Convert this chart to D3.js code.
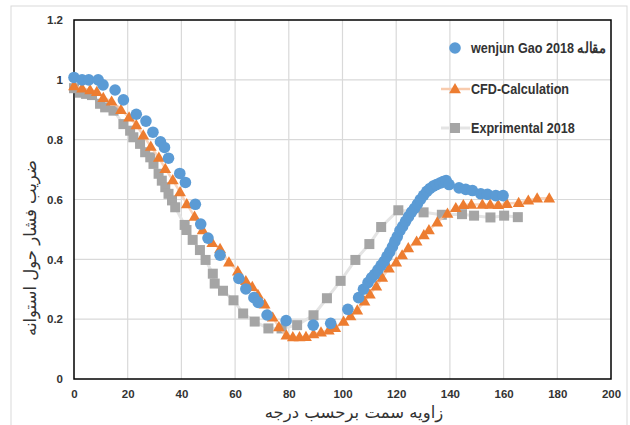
<!DOCTYPE html>
<html><head><meta charset="utf-8">
<script src="https://cdn.jsdelivr.net/npm/d3@7"></script>
<style>body{margin:0;background:#fff}svg{display:block}</style>
</head><body><svg id="c" width="630" height="425"></svg>
<script>
const xTicks=[0,20,40,60,80,100,120,140,160,180,200];
const yTicks=[0,0.2,0.4,0.6,0.8,1,1.2];
const seriesNames=["wenjun Gao 2018 مقاله","CFD-Calculation","Exprimental 2018"];
const xTitle="زاویه سمت برحسب درجه";
const yTitle="ضریب فشار حول استوانه";

const gaoX=[0,3,5.5,9,10.8,15.3,18.4,23.2,26.8,29.4,32.2,33.7,35.2,39.4,41.5,45.2,47.2,49.9,54.4,61.4,64,67,68.6,71.9,79,89.1,95.6,102,106,107.8,109.5,110.8,112,113.2,114.4,115.5,116.6,117.6,118.6,119.5,120.4,121.4,122.4,123.5,124.6,125.7,126.8,127.9,129,130.2,131.4,132.6,133.8,135,136.3,137.5,138.6,139.7,143.4,145.9,148.4,151.5,154,157.1,159.8];
const gaoY=[1.008,1.0,1.0,1.0,0.983,0.966,0.933,0.885,0.862,0.825,0.793,0.774,0.738,0.687,0.657,0.584,0.518,0.471,0.414,0.336,0.301,0.272,0.256,0.214,0.195,0.18,0.186,0.233,0.272,0.3,0.322,0.338,0.35,0.365,0.38,0.393,0.41,0.425,0.442,0.46,0.476,0.496,0.51,0.527,0.543,0.558,0.57,0.585,0.6,0.614,0.627,0.637,0.645,0.65,0.655,0.66,0.663,0.65,0.639,0.634,0.63,0.619,0.617,0.613,0.613];

const cfdX=[0,3,6,8.5,10.9,14,17.5,20.5,23.2,25.8,28.6,31.6,34,36.8,39.5,42,44.9,47.9,51.5,54.4,57.7,61,64,66.4,68.5,71,74,76.3,79.1,81.5,84,86.4,89.2,92,94.9,97.3,100.4,103,105.5,108.2,110.2,112.6,114.8,117.3,120,122.2,124.5,127.6,130.3,132.2,135.3,139.1,142.2,145,148,152.1,155,158,161.2,165.6,169.2,172.5,177];
const cfdY=[0.979,0.972,0.966,0.96,0.94,0.928,0.9,0.875,0.849,0.815,0.777,0.74,0.703,0.665,0.625,0.585,0.543,0.498,0.455,0.435,0.39,0.36,0.328,0.308,0.282,0.25,0.206,0.174,0.146,0.14,0.14,0.141,0.15,0.156,0.163,0.171,0.192,0.21,0.23,0.26,0.283,0.31,0.339,0.37,0.39,0.414,0.438,0.46,0.481,0.498,0.524,0.553,0.572,0.582,0.583,0.583,0.583,0.582,0.586,0.589,0.597,0.604,0.604];

const expX=[0,2.2,4.5,6.7,9.7,11.6,14.7,18.4,20.9,22.1,24.6,26.5,28.4,29.6,31.5,32.7,34,35.2,36.5,37.7,41.2,41.9,44.2,46.9,49,51.7,52.4,55.5,59.4,63,67.3,72.4,77.3,83.1,89.2,94.2,99.3,104.8,110,114.4,120.8,130.2,137,144.5,149,155.1,160.2,165.3];
const expY=[0.972,0.957,0.953,0.949,0.92,0.908,0.897,0.852,0.83,0.808,0.786,0.758,0.741,0.719,0.686,0.663,0.641,0.619,0.597,0.574,0.515,0.498,0.465,0.431,0.398,0.352,0.319,0.295,0.263,0.219,0.192,0.169,0.169,0.18,0.213,0.27,0.328,0.398,0.451,0.508,0.564,0.557,0.549,0.551,0.546,0.54,0.546,0.541];

const colBlue="#5b9bd5", colOrange="#ed7d31", colGray="#a5a5a5";
const lineOrange="#f8cbad", lineGray="#e4e4e4";

const svg=d3.select("#c");
const L=74,R=611,T=20,B=379;
const x=d3.scaleLinear().domain([0,200]).range([L,R]);
const y=d3.scaleLinear().domain([0,1.2]).range([B,T]);

svg.append("rect").attr("x",11).attr("y",6).attr("width",616).attr("height",440)
  .attr("fill","none").attr("stroke","#d9d9d9").attr("stroke-width",1);

const g=svg.append("g");
g.selectAll(".gx").data(xTicks.slice(1,-1)).join("line")
  .attr("x1",d=>x(d)).attr("x2",d=>x(d)).attr("y1",T).attr("y2",B)
  .attr("stroke","#d9d9d9").attr("stroke-width",1.2);
g.selectAll(".gy").data(yTicks.slice(1,-1)).join("line")
  .attr("y1",d=>y(d)).attr("y2",d=>y(d)).attr("x1",L).attr("x2",R)
  .attr("stroke","#d9d9d9").attr("stroke-width",1.2);

const xa=svg.append("g").attr("transform",`translate(0,${B})`)
  .call(d3.axisBottom(x).tickValues(xTicks).tickSize(0).tickPadding(11));
const ya=svg.append("g").attr("transform",`translate(${L},0)`)
  .call(d3.axisLeft(y).tickValues(yTicks).tickSize(0).tickPadding(11).tickFormat(d=>d3.format("")(+d.toFixed(1))));
[xa,ya].forEach(a=>{a.select(".domain").remove();
  a.selectAll("text").attr("font-family","'Liberation Sans',Arial,sans-serif").attr("font-weight","bold").attr("font-size","11.5px").attr("fill","#333");});

svg.append("rect").attr("x",L).attr("y",T).attr("width",R-L).attr("height",B-T)
  .attr("fill","none").attr("stroke","#000").attr("stroke-width",1.5);

const pts=(xs,ys)=>xs.map((v,i)=>[v,ys[i]]);
const line=d3.line().x(d=>x(d[0])).y(d=>y(d[1]));

svg.append("path").datum(pts(expX,expY)).attr("d",line).attr("fill","none").attr("stroke",lineGray).attr("stroke-width",3);
const sq=10;
svg.append("g").selectAll("rect").data(pts(expX,expY)).join("rect")
  .attr("x",d=>x(d[0])-sq/2).attr("y",d=>y(d[1])-sq/2).attr("width",sq).attr("height",sq).attr("fill",colGray);

svg.append("path").datum(pts(cfdX,cfdY)).attr("d",line).attr("fill","none").attr("stroke",lineOrange).attr("stroke-width",2.5).attr("opacity",0.8);
const tri=d3.symbol().type(d3.symbolTriangle).size(60);
svg.append("g").selectAll("path").data(pts(cfdX,cfdY)).join("path")
  .attr("d",tri).attr("transform",d=>`translate(${x(d[0])},${y(d[1])+0.8})`).attr("fill",colOrange);

svg.append("g").selectAll("circle").data(pts(gaoX,gaoY)).join("circle")
  .attr("cx",d=>x(d[0])).attr("cy",d=>y(d[1])).attr("r",5.8).attr("fill",colBlue);

const lg=svg.append("g").attr("font-family","'Liberation Sans',Arial,sans-serif").attr("font-weight","bold").attr("font-size","14.5px").attr("fill","#333");
const lx=455, ly=[48,89,128];
lg.append("circle").attr("cx",lx).attr("cy",ly[0]).attr("r",5.8).attr("fill",colBlue);
lg.append("line").attr("x1",441).attr("x2",470).attr("y1",ly[1]).attr("y2",ly[1]).attr("stroke",lineOrange).attr("stroke-width",2.5);
lg.append("path").attr("d",tri).attr("transform",`translate(${lx},${ly[1]+0.8})`).attr("fill",colOrange);
lg.append("line").attr("x1",441).attr("x2",470).attr("y1",ly[2]).attr("y2",ly[2]).attr("stroke",lineGray).attr("stroke-width",3);
lg.append("rect").attr("x",lx-sq/2).attr("y",ly[2]-sq/2).attr("width",sq).attr("height",sq).attr("fill",colGray);
seriesNames.forEach((n,i)=>{
  lg.append("text").attr("transform",`translate(471,${ly[i]}) scale(0.87,1)`).attr("dy","0.36em").attr("direction","ltr").text(n);
});

svg.append("text").attr("x",354).attr("y",412).attr("dy","0.35em").attr("text-anchor","middle")
  .attr("font-family","'DejaVu Sans',sans-serif").attr("font-size","16.5px").attr("fill","#333").text(xTitle);
svg.append("text").attr("transform","translate(30,248) rotate(-90)").attr("dy","0.35em").attr("text-anchor","middle")
  .attr("font-family","'DejaVu Sans',sans-serif").attr("font-size","16.5px").attr("fill","#333").text(yTitle);
</script></body></html>
